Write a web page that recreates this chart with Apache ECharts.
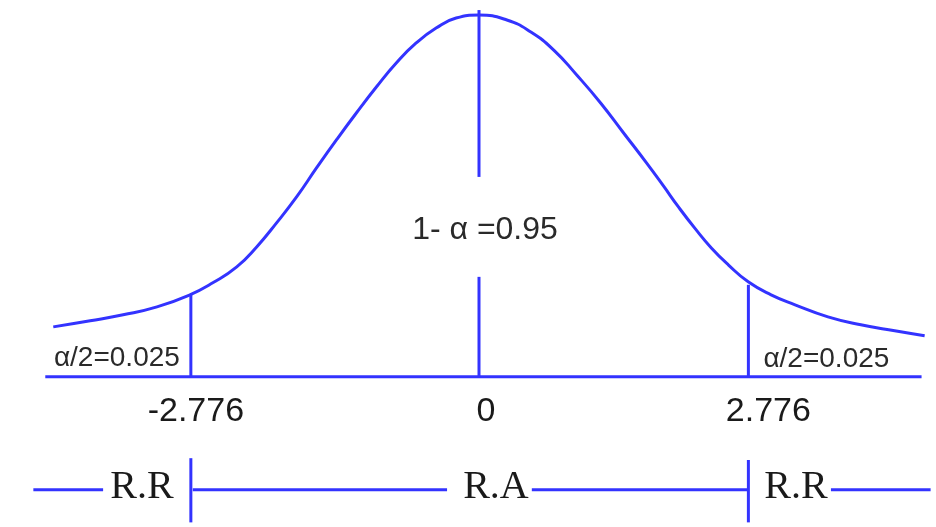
<!DOCTYPE html>
<html>
<head>
<meta charset="utf-8">
<script src="https://cdn.jsdelivr.net/npm/echarts@6/dist/echarts.min.js"></script>
<style>
  html, body { margin: 0; padding: 0; background: #fff; }
  #chart { width: 936px; height: 527px; }
</style>
</head>
<body>
<div id="chart"></div>
<script>
// curve (x in t units, y as density height)
var curveX = [-4.425, -4.041, -3.699, -3.347, -3.005, -2.767, -2.518, -2.311, -2.104, -1.896, -1.689, -1.482,
    -1.275, -1.067, -0.860, -0.653, -0.446, -0.238, 0, 0.290, 0.539, 0.777, 1.016, 1.264, 1.503, 1.741,
    1.917, 2.073, 2.249, 2.415, 2.591, 2.798, 3.036, 3.285, 3.627, 3.969, 4.321, 4.632]
var curveY = [0.0552, 0.0619, 0.0685, 0.0773, 0.0906, 0.1039, 0.1215, 0.1436, 0.1702, 0.1989, 0.2309, 0.2619,
    0.2917, 0.3204, 0.3470, 0.3691, 0.3856, 0.3967, 0.4000, 0.3945, 0.3812, 0.3613, 0.3337, 0.3028, 0.2696, 0.2365,
    0.2110, 0.1878, 0.1635, 0.1425, 0.1238, 0.1050, 0.0906, 0.0796, 0.0663, 0.0575, 0.0508, 0.0453]

// critical lines: drawn position, top of line, tick label
var cutX = [-2.995, 0, 2.8]
var cutTop = [0.0906, 0.4055, 0.1017]
var tickLabels = ['-2.776', '0', '2.776']
var centerGap = [0.1105, 0.221]

var baseRange = [-4.508, 4.6]
var tailLabels = ['α/2=0.025', 'α/2=0.025']
var confLabel = '1- α =0.95'
var regionLabels = ['R.R', 'R.A', 'R.R']
var regionX = [-3.503, 0.176, 3.295]

var blue = '#3333ff'
var ink = '#1a1a1a'
var rowY = -0.125

function seg(points) {
    return {
        type: 'line', data: points, symbol: 'none', silent: true, clip: false,
        lineStyle: { color: blue, width: 3 }
    }
}

function txt(x, y, text, label) {
    return {
        value: [x, y],
        label: Object.assign({ show: true, formatter: text, color: ink, position: 'inside', opacity: 1,
            fontFamily: 'Liberation Sans', fontSize: 34 }, label)
    }
}

var series = []

series.push({
    type: 'line', smooth: 0.5, symbol: 'none', silent: true, clip: false,
    data: curveX.map(function (x, i) { return [x, curveY[i]] }),
    lineStyle: { color: blue, width: 3 }
})
series.push(seg([[baseRange[0], 0], [baseRange[1], 0]]))
series.push(seg([[cutX[0], 0], [cutX[0], cutTop[0]]]))
series.push(seg([[cutX[2], 0], [cutX[2], cutTop[2]]]))
series.push(seg([[cutX[1], 0], [cutX[1], centerGap[0]]]))
series.push(seg([[cutX[1], centerGap[1]], [cutX[1], cutTop[1]]]))

// bottom row: R.R | R.A | R.R
series.push(seg([[-4.632, rowY], [-3.907, rowY]]))
series.push(seg([[cutX[0] + 0.02, rowY], [-0.332, rowY]]))
series.push(seg([[0.549, rowY], [cutX[2], rowY]]))
series.push(seg([[3.658, rowY], [4.694, rowY]]))
series.push(seg([[cutX[0], -0.09], [cutX[0], -0.161]]))
series.push(seg([[cutX[2], -0.092], [cutX[2], -0.161]]))

var tickOffset = [5, 7, 20]
var texts = []
cutX.forEach(function (x, i) {
    texts.push(txt(x, -0.038, tickLabels[i], { offset: [tickOffset[i], 0] }))
})
texts.push(txt(cutX[0], 0.02, tailLabels[0], { align: 'right', offset: [-11, 0], fontSize: 28, color: '#2a2a2a' }))
texts.push(txt(cutX[2], 0.019, tailLabels[1], { align: 'left', offset: [15, 0], fontSize: 28, color: '#2a2a2a' }))
texts.push(txt(cutX[1], 0.1624, confLabel, { offset: [6, 0], fontSize: 32, color: '#2a2a2a' }))
regionX.forEach(function (x, i) {
    texts.push(txt(x, rowY + 0.003, regionLabels[i], { fontFamily: 'Liberation Serif', fontSize: 40 }))
})
series.push({ type: 'scatter', symbolSize: 0, silent: true, itemStyle: { opacity: 1 }, data: texts })

var chart = echarts.init(document.getElementById('chart'), null, { renderer: 'canvas' })
chart.setOption({
    animation: false,
    backgroundColor: '#fff',
    grid: { left: 22, top: 6, width: 917, height: 520 },
    xAxis: { type: 'value', min: -4.75, max: 4.75, show: false },
    yAxis: { type: 'value', min: -0.165, max: 0.41, show: false },
    series: series
})
</script>
</body>
</html>
